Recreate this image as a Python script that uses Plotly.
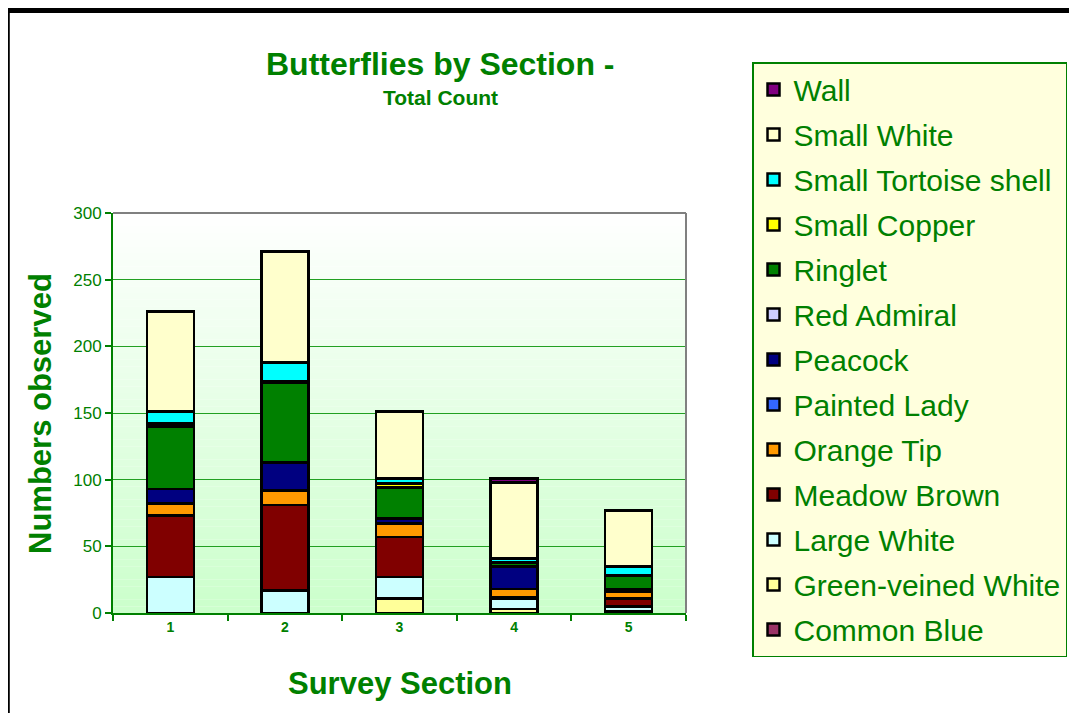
import plotly.graph_objects as go

sections = ["1", "2", "3", "4", "5"]

# counts per section, bottom of the stack first
common_blue = [0, 0, 0, 0, 0]
green_veined_white = [0, 0, 11, 3, 1]
large_white = [27, 17, 16, 8, 4]
meadow_brown = [46, 64, 30, 1, 6]
orange_tip = [9, 11, 10, 6, 5]
painted_lady = [0, 0, 0, 0, 0]
peacock = [11, 21, 4, 17, 2]
red_admiral = [0, 0, 0, 0, 0]
ringlet = [47, 60, 23, 3, 10]
small_copper = [2, 1, 3, 0, 0]
small_tortoiseshell = [9, 14, 4, 3, 7]
small_white = [75, 83, 50, 57, 42]
wall = [0, 0, 0, 3, 0]

series = [
    ("Common Blue", common_blue, "#993366"),
    ("Green-veined White", green_veined_white, "#ffff99"),
    ("Large White", large_white, "#ccffff"),
    ("Meadow Brown", meadow_brown, "#800000"),
    ("Orange Tip", orange_tip, "#ff9900"),
    ("Painted Lady", painted_lady, "#3366ff"),
    ("Peacock", peacock, "#000080"),
    ("Red Admiral", red_admiral, "#ccccff"),
    ("Ringlet", ringlet, "#008000"),
    ("Small Copper", small_copper, "#ffff00"),
    ("Small Tortoise shell", small_tortoiseshell, "#00ffff"),
    ("Small White", small_white, "#ffffcc"),
    ("Wall", wall, "#800080"),
]

GREEN = "#008000"
FONT = "Liberation Sans, Arial, sans-serif"

fig = go.Figure()
for i, (name, vals, color) in enumerate(series):
    fig.add_trace(go.Bar(
        x=sections, y=vals, name=name, legendgroup=name,
        legendrank=len(series) - i,
        marker=dict(color=color, line=dict(color="black", width=2.5)),
    ))

# plot area gradient: white at top fading to pale green
n = 60
for i in range(n):
    t = i / (n - 1)
    c = int(255 + (204 - 255) * t)
    fig.add_shape(
        type="rect", xref="x domain", yref="y domain",
        x0=0, x1=1, y0=1 - (i + 1) / n, y1=1 - i / n,
        fillcolor=f"rgb({c},255,{c})", line=dict(width=0), layer="below",
    )

# grey border on top and right of plot area
fig.add_shape(type="line", xref="x domain", yref="y domain", x0=0, x1=1, y0=1, y1=1,
              line=dict(color="#808080", width=2))
fig.add_shape(type="line", xref="x domain", yref="y domain", x0=1, x1=1, y0=0, y1=1,
              line=dict(color="#808080", width=2))
# black frame along top and left of the picture
fig.add_shape(type="line", xref="paper", yref="paper", x0=-0.19, x1=1.72, y0=1.50625, y1=1.50625,
              line=dict(color="black", width=5))
fig.add_shape(type="line", xref="paper", yref="paper", x0=-0.1845, x1=-0.1845, y0=-0.3, y1=1.5125,
              line=dict(color="black", width=5))

fig.add_annotation(text="<b>Butterflies by Section -</b>", xref="paper", yref="paper",
                   x=0.5724, y=1.3725, xanchor="center", yanchor="middle", showarrow=False,
                   font=dict(size=32, color=GREEN, family=FONT))
fig.add_annotation(text="<b>Total Count</b>", xref="paper", yref="paper",
                   x=0.5724, y=1.2875, xanchor="center", yanchor="middle", showarrow=False,
                   font=dict(size=21, color=GREEN, family=FONT))
fig.add_annotation(text="<b>Numbers observed</b>", xref="paper", yref="paper",
                   x=-0.1274, y=0.5, xanchor="center", yanchor="middle", textangle=-90,
                   showarrow=False, font=dict(size=31, color=GREEN, family=FONT))
fig.add_annotation(text="<b>Survey Section</b>", xref="paper", yref="paper",
                   x=0.5, y=-0.175, xanchor="center", yanchor="middle", showarrow=False,
                   font=dict(size=31, color=GREEN, family=FONT))

fig.update_layout(
    barmode="stack",
    bargap=0.59,
    width=1077, height=713,
    margin=dict(l=105, r=399, t=205, b=108),
    paper_bgcolor="white",
    plot_bgcolor="rgba(0,0,0,0)",
    font=dict(family=FONT, color=GREEN),
    legend=dict(
        x=1.1152, y=1.3775, xanchor="left", yanchor="top",
        bgcolor="#ffffdd", bordercolor=GREEN, borderwidth=1.5,
        font=dict(size=30, color=GREEN, family=FONT),
        tracegroupgap=3, maxheight=1.0,
    ),
)
fig.update_xaxes(
    type="category", tickson="boundaries", ticks="outside", ticklen=6, tickcolor=GREEN,
    tickwidth=1.5, showline=True, linecolor=GREEN, linewidth=2,
    tickfont=dict(size=14, color=GREEN, family=FONT), showgrid=False,
    tickprefix="<b>", ticksuffix="</b>",
)
fig.update_yaxes(
    range=[0, 300], dtick=50, ticks="outside", ticklen=6, tickcolor=GREEN, tickwidth=1.5,
    showline=True, linecolor=GREEN, linewidth=2,
    showgrid=True, gridcolor="#22a022", gridwidth=1,
    tickfont=dict(size=17, color=GREEN, family=FONT), zeroline=False,
)

fig.write_html("out.html")
